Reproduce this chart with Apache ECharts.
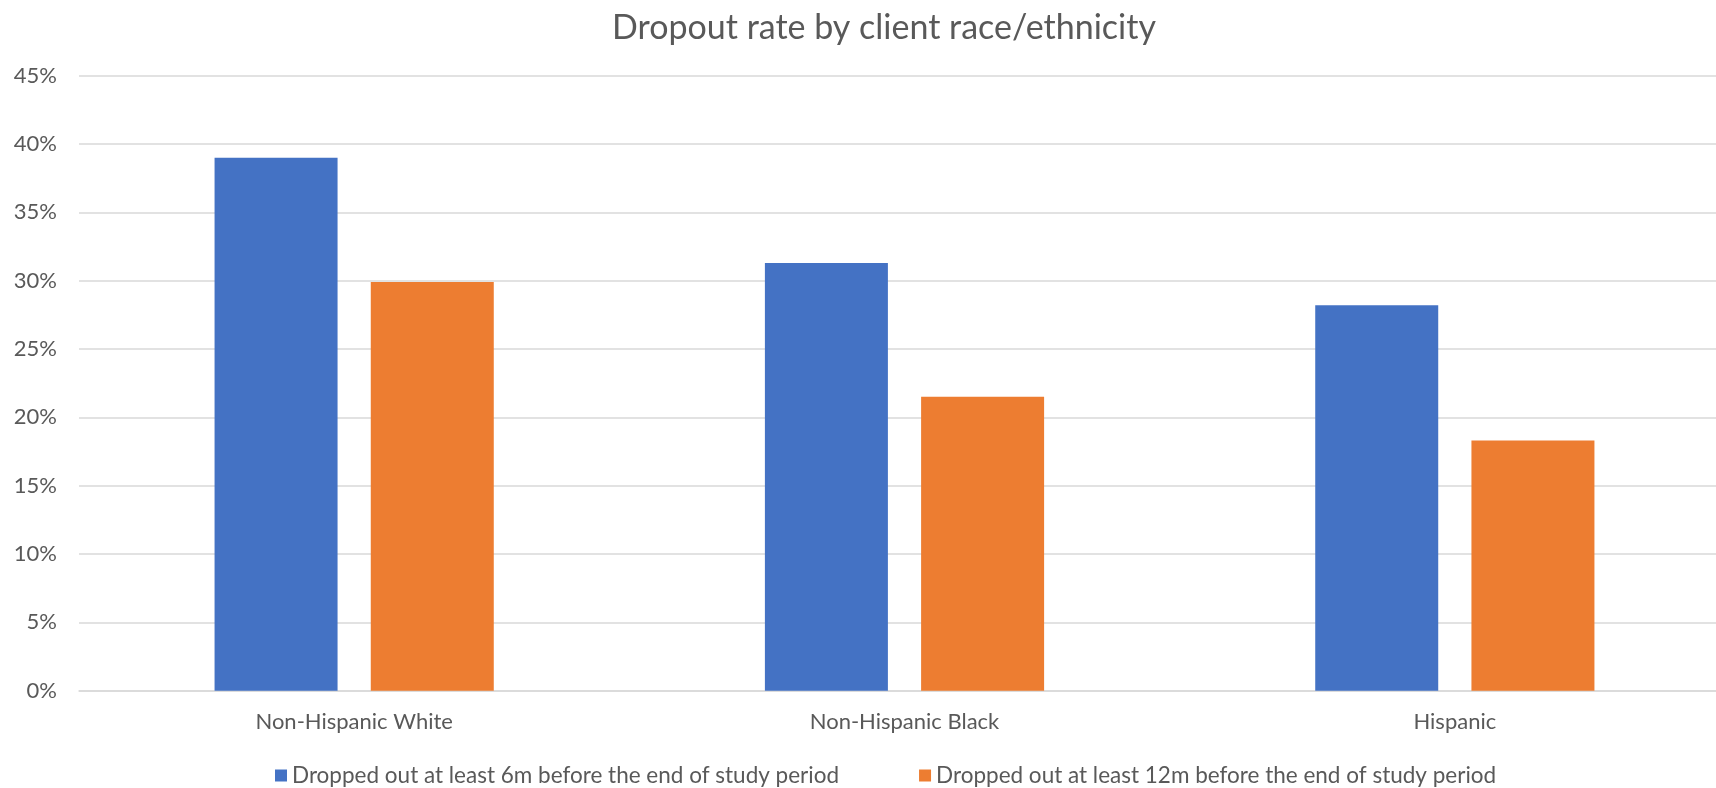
<!DOCTYPE html>
<html>
<head>
<meta charset="utf-8">
<title>Dropout rate by client race/ethnicity</title>
<script src="https://cdn.jsdelivr.net/npm/echarts@6/dist/echarts.min.js"></script>
<style>
  html, body { margin: 0; padding: 0; background: #ffffff; overflow: hidden; }
  /* the plot runs slightly past the right edge of the page */
  #chart { width: 1760px; height: 788px; }
</style>
</head>
<body>
<div id="chart"></div>
<script>
// Client groups along the category axis
const categories = ['Non-Hispanic White', 'Non-Hispanic Black', 'Hispanic'];

// Dropout rates (%) per group
const dropped6m = [39.0, 31.3, 28.2];
const dropped12m = [29.9, 21.5, 18.3];

const seriesNames = [
  'Dropped out at least 6m before the end of study period',
  'Dropped out at least 12m before the end of study period'
];

// Percentage ticks on the value axis
const yTicks = { min: 0, max: 45, step: 5 };

const FONT = 'Lato, "Noto Sans", sans-serif';
const TEXT = '#595959';

const chart = echarts.init(document.getElementById('chart'), null, { renderer: 'canvas' });

chart.setOption({
  backgroundColor: '#ffffff',
  animation: false,
  title: {
    text: 'Dropout rate by client race/ethnicity',
    left: 879,
    textAlign: 'center',
    top: 6,
    textStyle: { fontFamily: FONT, fontSize: 34, fontWeight: 'normal', color: TEXT }
  },
  legend: {
    data: seriesNames,
    left: 270,
    top: 759,
    icon: 'rect',
    itemWidth: 12,
    itemHeight: 12,
    itemGap: 80,
    textStyle: { fontFamily: FONT, fontSize: 22.5, color: TEXT }
  },
  grid: {
    left: 79,
    top: 75.7,
    width: 1651,
    height: 615,
    containLabel: false
  },
  xAxis: {
    type: 'category',
    data: categories,
    axisTick: { show: false },
    axisLine: { lineStyle: { color: '#d9d9d9', width: 1.5 } },
    axisLabel: { fontFamily: FONT, fontSize: 22, color: TEXT, margin: 20 }
  },
  yAxis: {
    type: 'value',
    min: yTicks.min,
    max: yTicks.max,
    interval: yTicks.step,
    axisLine: { show: false },
    axisTick: { show: false },
    splitLine: { lineStyle: { color: '#d9d9d9', width: 1.5 } },
    axisLabel: { fontFamily: FONT, fontSize: 22, color: TEXT, margin: 22, formatter: '{value}%' }
  },
  series: [
    {
      name: seriesNames[0],
      type: 'bar',
      data: dropped6m,
      barWidth: 123,
      barGap: '27%',
      itemStyle: { color: '#4472C4' }
    },
    {
      name: seriesNames[1],
      type: 'bar',
      data: dropped12m,
      barWidth: 123,
      itemStyle: { color: '#ED7D31' }
    }
  ]
});
</script>
</body>
</html>
